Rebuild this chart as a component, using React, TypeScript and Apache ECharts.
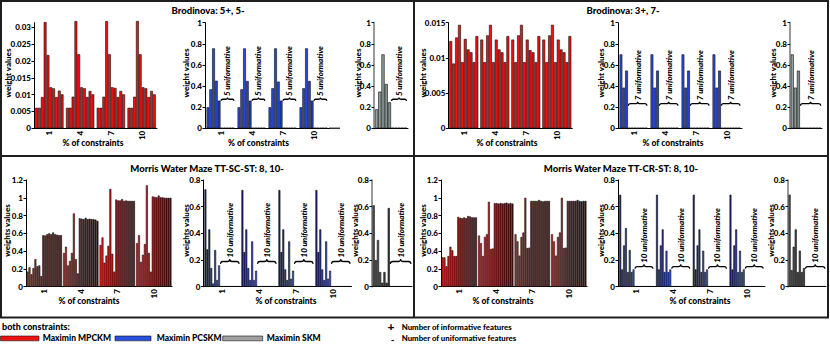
import React, { useEffect, useRef } from 'react';
import * as echarts from 'echarts';

const FONT = 'Lato';
const WEIGHT = 900;

// ---------- categories ----------
const groupLabels = ['1', '4', '7', '10'];
const singleLabel = [''];

// ---------- Brodinova 5+, 5- (rows = groups 1,4,7,10; columns = bars) ----------
const brod55Red = [
  [0.0061, 0.0061, 0.0093, 0.0316, 0.0218, 0.0122, 0.0119, 0.0093, 0.0112, 0.0101],
  [0.0061, 0.0061, 0.0094, 0.0319, 0.022, 0.0122, 0.0119, 0.0093, 0.0111, 0.0101],
  [0.0061, 0.0061, 0.0094, 0.0319, 0.022, 0.0122, 0.012, 0.0093, 0.0111, 0.0101],
  [0.0061, 0.0061, 0.0094, 0.0319, 0.022, 0.0122, 0.0119, 0.0093, 0.0111, 0.0101],
];
const brod55Blue = [
  [0.199, 0.369, 0.757, 0.451, 0.262, 0.004, 0.004, 0.004, 0.004, 0.004],
  [0.199, 0.369, 0.757, 0.448, 0.262, 0.004, 0.004, 0.004, 0.004, 0.004],
  [0.199, 0.379, 0.757, 0.442, 0.262, 0.004, 0.004, 0.004, 0.004, 0.004],
  [0.199, 0.379, 0.757, 0.448, 0.262, 0.004, 0.004, 0.004, 0.004, 0.004],
];
const brod55Gray = [[0.18, 0.347, 0.7, 0.42, 0.246, 0.004, 0.004, 0.004, 0.004, 0.004]];

// ---------- Brodinova 3+, 7- ----------
const brod37Red = [
  [0.0124, 0.0092, 0.0129, 0.0147, 0.0094, 0.0127, 0.0112, 0.0108, 0.0094, 0.0131],
  [0.0126, 0.0094, 0.0132, 0.0147, 0.0094, 0.0126, 0.0112, 0.0108, 0.0094, 0.0131],
  [0.0126, 0.0094, 0.0132, 0.0147, 0.0094, 0.0126, 0.0111, 0.0108, 0.0094, 0.0131],
  [0.0126, 0.0094, 0.0132, 0.0147, 0.0094, 0.0126, 0.0112, 0.0108, 0.0094, 0.0131],
];
const brod37Blue = [
  [0.7, 0.385, 0.546, 0.004, 0.004, 0.004, 0.004, 0.004, 0.004, 0.004],
  [0.7, 0.385, 0.546, 0.004, 0.004, 0.004, 0.004, 0.004, 0.004, 0.004],
  [0.7, 0.385, 0.546, 0.004, 0.004, 0.004, 0.004, 0.004, 0.004, 0.004],
  [0.7, 0.385, 0.546, 0.004, 0.004, 0.004, 0.004, 0.004, 0.004, 0.004],
];
const brod37Gray = [[0.7, 0.385, 0.546, 0.004, 0.004, 0.004, 0.004, 0.004, 0.004, 0.004]];

// ---------- Morris Water Maze TT-SC-ST: 8, 10- ----------
const mwmScRed = [
  [0.17, 0.22, 0.14, 0.21, 0.31, 0.23, 0.24, 0.12, 0.58, 0.575, 0.59, 0.6, 0.59, 0.61, 0.59, 0.585, 0.58, 0.58],
  [0.38, 0.45, 0.24, 0.29, 0.38, 0.825, 0.31, 0.15, 0.77, 0.765, 0.76, 0.775, 0.76, 0.765, 0.76, 0.76, 0.755, 0.74],
  [0.47, 0.555, 0.27, 0.35, 0.46, 1.1, 0.37, 0.17, 0.98, 0.97, 0.97, 0.985, 0.965, 0.97, 0.965, 0.965, 0.965, 0.965],
  [0.49, 0.58, 0.28, 0.36, 0.48, 1.14, 0.38, 0.17, 1.015, 1.01, 1.005, 1.025, 1.005, 1.005, 1.0, 1.0, 1.0, 1.0],
];
const mwmScBlue = [
  [0.73, 0.28, 0.43, 0.14, 0.025, 0.275, 0.05, 0.16, 0.004, 0.004, 0.004, 0.004, 0.004, 0.004, 0.004, 0.004, 0.004, 0.004],
  [0.725, 0.26, 0.43, 0.14, 0.05, 0.34, 0.05, 0.12, 0.004, 0.004, 0.004, 0.004, 0.004, 0.004, 0.004, 0.004, 0.004, 0.004],
  [0.725, 0.26, 0.43, 0.13, 0.05, 0.34, 0.06, 0.12, 0.004, 0.004, 0.004, 0.004, 0.004, 0.004, 0.004, 0.004, 0.004, 0.004],
  [0.725, 0.26, 0.43, 0.13, 0.05, 0.34, 0.06, 0.12, 0.004, 0.004, 0.004, 0.004, 0.004, 0.004, 0.004, 0.004, 0.004, 0.004],
];
const mwmScGray = [
  [0.61, 0.2, 0.35, 0.11, 0.03, 0.11, 0.03, 0.59, 0.004, 0.004, 0.004, 0.004, 0.004, 0.004, 0.004, 0.004, 0.004, 0.004],
];

// ---------- Morris Water Maze TT-CR-ST: 8, 10- ----------
const mwmCrRed = [
  [0.33, 0.33, 0.23, 0.345, 0.45, 0.41, 0.345, 0.345, 0.785, 0.775, 0.77, 0.78, 0.77, 0.795, 0.79, 0.78, 0.78, 0.78],
  [0.575, 0.49, 0.345, 0.56, 0.59, 0.955, 0.425, 0.43, 0.94, 0.94, 0.935, 0.94, 0.935, 0.94, 0.945, 0.935, 0.94, 0.935],
  [0.59, 0.51, 0.35, 0.56, 0.61, 1.0, 0.435, 0.44, 0.965, 0.965, 0.965, 0.965, 0.975, 0.965, 0.96, 0.965, 0.965, 0.965],
  [0.59, 0.51, 0.35, 0.56, 0.61, 1.0, 0.435, 0.44, 0.965, 0.965, 0.965, 0.965, 0.965, 0.975, 0.965, 0.96, 0.965, 0.965],
];
const mwmCrBlue = [
  [0.69, 0.13, 0.31, 0.44, 0.11, 0.275, 0.11, 0.13, 0.004, 0.004, 0.004, 0.004, 0.004, 0.004, 0.004, 0.004, 0.004, 0.004],
  [0.69, 0.13, 0.31, 0.43, 0.11, 0.27, 0.11, 0.13, 0.004, 0.004, 0.004, 0.004, 0.004, 0.004, 0.004, 0.004, 0.004, 0.004],
  [0.69, 0.13, 0.31, 0.43, 0.11, 0.27, 0.11, 0.13, 0.004, 0.004, 0.004, 0.004, 0.004, 0.004, 0.004, 0.004, 0.004, 0.004],
  [0.69, 0.13, 0.31, 0.43, 0.11, 0.27, 0.11, 0.13, 0.004, 0.004, 0.004, 0.004, 0.004, 0.004, 0.004, 0.004, 0.004, 0.004],
];
const mwmCrGray = [
  [0.69, 0.125, 0.3, 0.43, 0.11, 0.27, 0.11, 0.14, 0.004, 0.004, 0.004, 0.004, 0.004, 0.004, 0.004, 0.004, 0.004, 0.004],
];

// ---------- texts ----------
const titles = ['Brodinova: 5+, 5-', 'Brodinova: 3+, 7-', 'Morris Water Maze TT-SC-ST: 8, 10-', 'Morris Water Maze TT-CR-ST: 8, 10-'];
const uninfLabels = ['5 uniformative', '7 uniformative', '10 uniformative', '10 uniformative'];
const yNames = ['weight values', 'weight values', 'weights values', 'weights values'];
const xName = '% of constraints';
const legendNames = ['Maximin MPCKM', 'Maximin PCSKM', 'Maximin SKM'];

// ---------- styles ----------
function hex(c: string) {
  return [parseInt(c.slice(1, 3), 16), parseInt(c.slice(3, 5), 16), parseInt(c.slice(5, 7), 16)];
}
function mix(a: string, b: string, t: number) {
  const A = hex(a), B = hex(b);
  const r = A.map((v, i) => Math.round(v + (B[i] - v) * t));
  return '#' + r.map((v) => v.toString(16).padStart(2, '0')).join('');
}
function ramp(a: string, b: string, n: number) {
  const out: string[] = [];
  for (let i = 0; i < n; i++) out.push(mix(a, b, n === 1 ? 0 : i / (n - 1)));
  return out;
}
function withZeros(cols: string[], n: number, z: string) {
  const out = cols.slice();
  while (out.length < n) out.push(z);
  return out;
}
const RED = '#ee1111';
const topRedCols = ramp(RED, RED, 10);
const blue5 = withZeros(ramp('#2a4ee0', '#2240c8', 5), 10, '#555555');
const gray5 = withZeros(ramp('#94a3a1', '#7f8f8d', 5), 10, '#555555');
const blue3 = withZeros(ramp('#2a4ee0', '#2240c8', 3), 10, '#555555');
const gray3 = withZeros(ramp('#94a3a1', '#7f8f8d', 3), 10, '#555555');
const botRedCols = ramp('#ff1a1a', '#4d0f0f', 18);
const botBlueCols = withZeros(ramp('#1b2572', '#3556ee', 8), 18, '#666666');
const botGrayCols = withZeros(ramp('#5a5a5a', '#3a3a3a', 8), 18, '#666666');

type Spec = {
  left: number; top: number; width: number; height: number;
  yMax: number; yInterval: number; cats: string[]; rows: number[][];
  colors: string[]; gap: number; axisColor?: string; hideMax?: boolean;
};

const TOP = 22.7, TOPH = 105.6, BOT = 180, BOTH = 106.7;

const CHARTS: Spec[] = [
  { left: 34, top: TOP, width: 123, height: TOPH, yMax: 0.0314, yInterval: 0.005, cats: groupLabels, rows: brod55Red, colors: topRedCols, gap: 0.08, hideMax: true },
  { left: 205, top: TOP, width: 124, height: TOPH, yMax: 1, yInterval: 0.2, cats: groupLabels, rows: brod55Blue, colors: blue5, gap: 0.1 },
  { left: 374, top: TOP, width: 34, height: TOPH, yMax: 1, yInterval: 0.2, cats: singleLabel, rows: brod55Gray, colors: gray5, gap: 0.06, axisColor: '#9a9a9a' },
  { left: 448.3, top: TOP, width: 124, height: TOPH, yMax: 0.015, yInterval: 0.005, cats: groupLabels, rows: brod37Red, colors: topRedCols, gap: 0.065 },
  { left: 618, top: TOP, width: 124, height: TOPH, yMax: 1, yInterval: 0.2, cats: groupLabels, rows: brod37Blue, colors: blue3, gap: 0.1 },
  { left: 790, top: TOP, width: 32, height: TOPH, yMax: 1, yInterval: 0.2, cats: singleLabel, rows: brod37Gray, colors: gray3, gap: 0.05, axisColor: '#9a9a9a' },
  { left: 26, top: BOT, width: 146, height: BOTH, yMax: 1.2, yInterval: 0.2, cats: groupLabels, rows: mwmScRed, colors: botRedCols, gap: 0.03 },
  { left: 203.5, top: BOT, width: 148, height: BOTH, yMax: 0.8, yInterval: 0.2, cats: groupLabels, rows: mwmScBlue, colors: botBlueCols, gap: 0.05 },
  { left: 372, top: BOT, width: 40, height: BOTH, yMax: 0.8, yInterval: 0.2, cats: singleLabel, rows: mwmScGray, colors: botGrayCols, gap: 0.03, axisColor: '#9a9a9a' },
  { left: 441, top: BOT, width: 146, height: BOTH, yMax: 1.2, yInterval: 0.2, cats: groupLabels, rows: mwmCrRed, colors: botRedCols, gap: 0.03 },
  { left: 618, top: BOT, width: 147, height: BOTH, yMax: 0.8, yInterval: 0.2, cats: groupLabels, rows: mwmCrBlue, colors: botBlueCols, gap: 0.07 },
  { left: 788, top: BOT, width: 38, height: BOTH, yMax: 0.8, yInterval: 0.2, cats: singleLabel, rows: mwmCrGray, colors: botGrayCols, gap: 0.03, axisColor: '#9a9a9a' },
];

// number of informative bars per panel
const nInformative = [5, 3, 8, 8];

echarts.graphic.registerShape(
  'brace',
  echarts.graphic.extendPath('M0,20 Q0,10 12,10 L38,10 Q50,10 50,0 Q50,10 62,10 L88,10 Q100,10 100,20', {})
);

function zeroSpan(c: Spec, k: number, nInf: number) {
  const P = c.width / c.cats.length;
  const n = c.rows[0].length;
  const gw = P * (1 - c.gap);
  const start = c.left + k * P + (P * c.gap) / 2;
  const bw = gw / n;
  return [start + nInf * bw, start + gw];
}

function txt(x: number, y: number, text: string, size: number, opts: any = {}) {
  return {
    type: 'text', x, y, rotation: opts.rotation || 0, silent: true,
    style: {
      text, x: 0, y: 0, fill: '#000', fontFamily: FONT, fontWeight: WEIGHT,
      fontStyle: opts.italic ? 'italic' : 'normal', fontSize: size,
      align: opts.align || 'left', verticalAlign: opts.va || 'middle',
    },
  };
}

function buildOption() {
  const grid: any[] = [], xAxis: any[] = [], yAxis: any[] = [], series: any[] = [];
  const g: any[] = [];
  CHARTS.forEach((c, k) => {
    grid.push({ left: c.left, top: c.top, width: c.width, height: c.height });
    xAxis.push({
      type: 'category', gridIndex: k, data: c.cats,
      axisLine: { show: true, lineStyle: { color: '#000', width: 1 } },
      axisTick: { show: false },
      axisLabel: { show: false },
      splitLine: { show: false },
    });
    yAxis.push({
      type: 'value', gridIndex: k, min: 0, max: c.yMax, interval: c.yInterval,
      axisLine: { show: true, lineStyle: { color: c.axisColor || '#000', width: c.axisColor ? 2 : 1 } },
      axisTick: { show: true, length: 2.5, lineStyle: { color: '#000', width: 1 } },
      axisLabel: { fontSize: 8, fontWeight: WEIGHT, fontFamily: FONT, color: '#000', margin: 3, showMaxLabel: !c.hideMax },
      splitLine: { show: false },
    });
    const n = c.rows[0].length;
    for (let i = 0; i < n; i++) {
      series.push({
        type: 'bar', xAxisIndex: k, yAxisIndex: k, data: c.rows.map((r) => r[i]),
        barGap: '0%', barCategoryGap: c.gap * 100 + '%', clip: false, silent: true,
        itemStyle: { color: c.colors[i], borderColor: '#111', borderWidth: 0.6 },
      });
    }
    // rotated category tick labels, placed at the category band centres
    if (c.cats.length > 1) {
      const P = c.width / c.cats.length;
      c.cats.forEach((lab, j) => {
        g.push(txt(c.left + (j + 0.5) * P, c.top + c.height + 2.5, lab, 8, { align: 'right', rotation: Math.PI / 2 }));
      });
    }
  });

  // frame
  const frameLines = [
    [0, 1, 829, 1], [1, 0, 1, 318], [828, 0, 828, 318], [0, 317.5, 829, 317.5],
    [414, 0, 414, 318], [0, 156, 829, 156],
  ];
  frameLines.forEach(([x1, y1, x2, y2]) =>
    g.push({ type: 'line', silent: true, shape: { x1, y1, x2, y2 }, style: { stroke: '#1e1e1e', lineWidth: 2 } })
  );
  // axis extension of first blue chart
  g.push({ type: 'line', silent: true, shape: { x1: 329, y1: TOP + TOPH, x2: 340, y2: TOP + TOPH }, style: { stroke: '#333', lineWidth: 1.5 } });

  // titles
  const titlePos = [[208, 10.5], [623, 10.5], [207, 168], [621, 168]];
  titles.forEach((t, i) => g.push(txt(titlePos[i][0], titlePos[i][1], t, 9.5, { align: 'center' })));

  // y names
  const yNamePos = [
    [8, 186, 358], [422.5, 601, 773], [7, 186, 354.5], [422.5, 601, 771],
  ];
  yNamePos.forEach((xs, p) => {
    const cy = p < 2 ? 73 : 230.5;
    xs.forEach((x) => g.push(txt(x, cy, yNames[p], 8, { align: 'center', rotation: Math.PI / 2 })));
  });
  // x names
  const xNamePos = [[93, 143.3], [258.5, 143.3], [507, 143.3], [673, 143.3], [89, 301], [286, 301], [503, 301], [700, 301]];
  xNamePos.forEach(([x, y]) => g.push(txt(x, y, xName, 8.5, { align: 'center' })));

  // braces + uninformative labels
  const braceY = [[97.5, 3.5], [101.7, 4], [259, 5], [264.3, 4.5]];
  [0, 1, 2, 3].forEach((p) => {
    const blue = CHARTS[p * 3 + 1], gray = CHARTS[p * 3 + 2];
    const spans: number[][] = [];
    for (let k = 0; k < 4; k++) spans.push(zeroSpan(blue, k, nInformative[p]));
    spans.push(zeroSpan(gray, 0, nInformative[p]));
    spans.forEach(([x0, x1]) => {
      const [by, bh] = braceY[p];
      g.push({
        type: 'brace', x: x0 + 0.5, y: by, scaleX: (x1 - x0 - 1) / 100, scaleY: bh / 20, silent: true,
        style: { stroke: '#000', lineWidth: 1.2, fill: 'none', strokeNoScale: true },
      });
      g.push(txt((x0 + x1) / 2, by - 1.5, uninfLabels[p], 8, { italic: true, rotation: Math.PI / 2 }));
    });
  });

  // legend
  g.push(txt(2, 326.7, 'both constraints:', 9));
  const legCols = [RED, '#2a4ee0', '#a0a0a0'];
  const legBox = [[0.5, 39], [115, 151], [222.7, 262.7]];
  const legText = [42.7, 156.7, 266.7];
  legendNames.forEach((nm, i) => {
    g.push({ type: 'rect', silent: true, shape: { x: legBox[i][0], y: 336, width: legBox[i][1] - legBox[i][0], height: 4.8 }, style: { fill: legCols[i], stroke: '#111', lineWidth: 0.6 } });
    g.push(txt(legText[i], 338.4, nm, 8.5));
  });
  g.push(txt(387.5, 326.2, '+', 12));
  g.push(txt(401.7, 326.7, 'Number of informative features', 7.8));
  g.push(txt(391, 339, '-', 9));
  g.push(txt(401.7, 338.3, 'Number of uniformative features', 7.8));

  return { animation: false, backgroundColor: '#fff', grid, xAxis, yAxis, series, graphic: { elements: g } };
}

export default function App() {
  const ref = useRef<HTMLDivElement>(null);
  useEffect(() => {
    const chart = echarts.init(ref.current!, null, { renderer: 'svg' });
    chart.setOption(buildOption() as any);
    return () => chart.dispose();
  }, []);
  return <div ref={ref} style={{ position: 'fixed', left: 0, top: 0, width: 830, height: 347, background: '#fff' }} />;
}
